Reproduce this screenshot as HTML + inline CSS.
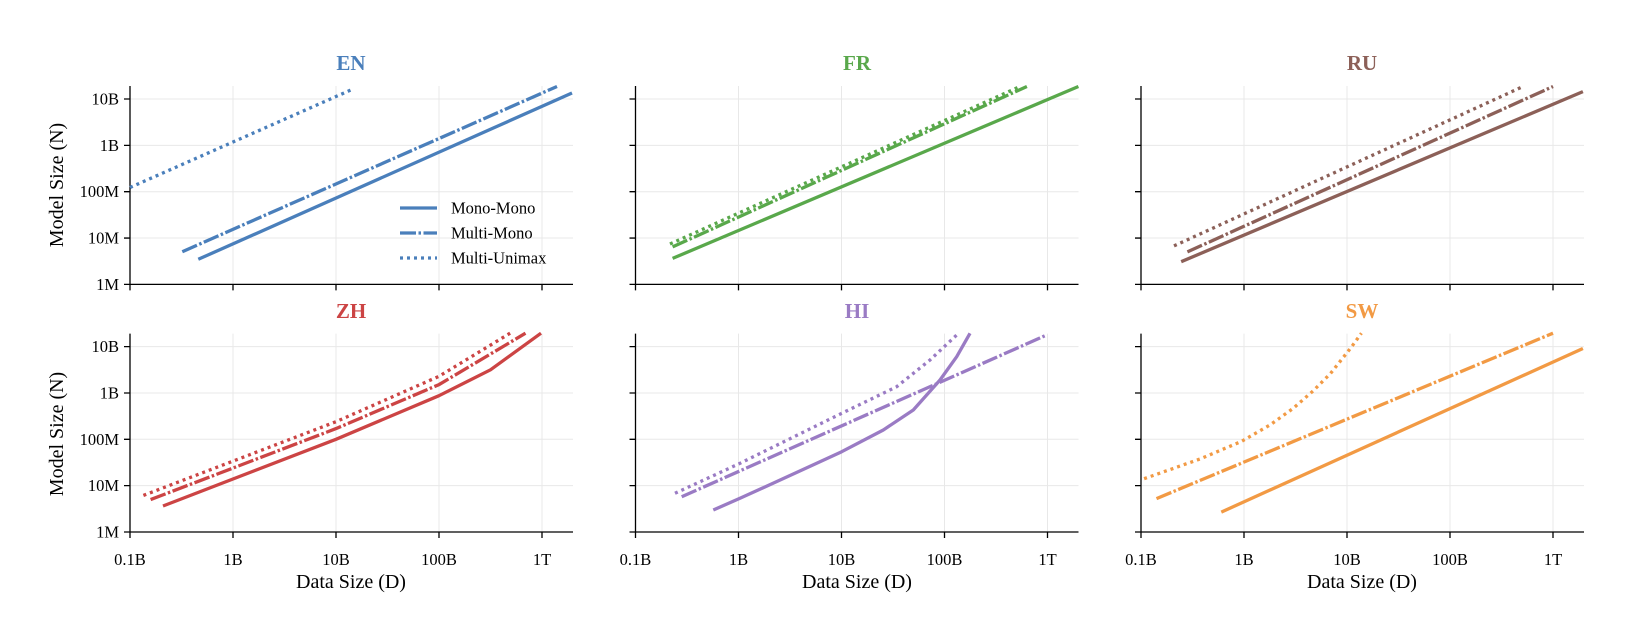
<!DOCTYPE html>
<html><head><meta charset="utf-8"><style>
body{margin:0;background:#fff}
svg{display:block;font-family:"Liberation Serif",serif}
.g{stroke:#e8e8e8;stroke-width:1}
.ax{stroke:#000;stroke-width:1.3;fill:none}
.tl{font-size:16.5px}
.s{fill:none;stroke-width:3.3;stroke-linejoin:round}
.d{fill:none;stroke-width:3.3;stroke-dasharray:16,2.5,2.5,2.5}
.o{fill:none;stroke-width:3.3;stroke-dasharray:3,4}
</style></head><body>
<svg width="1626" height="618" viewBox="0 0 1626 618" xmlns="http://www.w3.org/2000/svg">
<defs>
<g id="gt">
<line class="g" x1="0" x2="443" y1="-46.35" y2="-46.35"/><line class="g" x1="0" x2="443" y1="-92.7" y2="-92.7"/><line class="g" x1="0" x2="443" y1="-139" y2="-139"/><line class="g" x1="0" x2="443" y1="-185.4" y2="-185.4"/>
<line class="g" x1="103" x2="103" y1="0" y2="-198.4"/><line class="g" x1="206" x2="206" y1="0" y2="-198.4"/><line class="g" x1="309" x2="309" y1="0" y2="-198.4"/><line class="g" x1="412" x2="412" y1="0" y2="-198.4"/>
<path class="ax" d="M0,-198.4V0H443"/>
<path class="ax" d="M0,0h-6M0,-46.35h-6M0,-92.7h-6M0,-139h-6M0,-185.4h-6M0,0v6M103,0v6M206,0v6M309,0v6M412,0v6"/>
</g>
</defs>
<use href="#gt" x="130" y="284.4"/><use href="#gt" x="635.5" y="284.4"/><use href="#gt" x="1141" y="284.4"/>
<use href="#gt" x="130" y="532"/><use href="#gt" x="635.5" y="532"/><use href="#gt" x="1141" y="532"/>

<g font-weight="bold" font-size="21" text-anchor="middle">
<text x="351" y="70" fill="#4a7fbb">EN</text>
<text x="857" y="70" fill="#59a84b">FR</text>
<text x="1362" y="70" fill="#8c6058">RU</text>
<text x="351" y="318" fill="#cc4444">ZH</text>
<text x="857" y="318" fill="#9a7bc4">HI</text>
<text x="1362" y="318" fill="#f29a44">SW</text>
</g>

<g class="tl" text-anchor="end">
<text x="119" y="290">1M</text><text x="119" y="243.5">10M</text><text x="119" y="197.2">100M</text><text x="119" y="150.9">1B</text><text x="119" y="104.5">10B</text>
<text x="119" y="537.5">1M</text><text x="119" y="491.1">10M</text><text x="119" y="444.8">100M</text><text x="119" y="398.5">1B</text><text x="119" y="352.1">10B</text>
</g>
<g class="tl" text-anchor="middle">
<text x="130" y="565">0.1B</text><text x="233" y="565">1B</text><text x="336" y="565">10B</text><text x="439" y="565">100B</text><text x="542" y="565">1T</text>
<text x="635.5" y="565">0.1B</text><text x="738.5" y="565">1B</text><text x="841.5" y="565">10B</text><text x="944.5" y="565">100B</text><text x="1047.5" y="565">1T</text>
<text x="1141" y="565">0.1B</text><text x="1244" y="565">1B</text><text x="1347" y="565">10B</text><text x="1450" y="565">100B</text><text x="1553" y="565">1T</text>
</g>
<g font-size="20" text-anchor="middle">
<text x="351" y="588">Data Size (D)</text><text x="857" y="588">Data Size (D)</text><text x="1362" y="588">Data Size (D)</text>
<text transform="translate(63,185) rotate(-90)">Model Size (N)</text>
<text transform="translate(63,434) rotate(-90)">Model Size (N)</text>
</g>

<g stroke="#4a7fbb">
<path class="s" d="M198.3,259.3L572,93"/>
<path class="d" d="M182.3,251.7L557,86.5"/>
<path class="o" d="M130,187.5L353.5,88.8"/>
<path class="s" d="M400,208H437"/><path class="d" d="M400,233H437"/><path class="o" d="M400,258H437"/>
</g>
<g class="tl"><text x="451" y="213.5">Mono-Mono</text><text x="451" y="238.5">Multi-Mono</text><text x="451" y="263.5">Multi-Unimax</text></g>

<g stroke="#59a84b">
<path class="s" d="M672.6,258.4L1078.4,86.5"/>
<path class="d" d="M672.6,246.9L1026.9,86.5"/>
<path class="o" d="M670,244L1020,86.5"/>
</g>
<g stroke="#8c6058">
<path class="s" d="M1181.2,261.7L1582.9,91.6"/>
<path class="d" d="M1187.4,251.9L1553,86.5"/>
<path class="o" d="M1174,245.9L1523.1,86.5"/>
</g>
<g stroke="#cc4444">
<path class="s" d="M163,506L336,439.3L439,395.7L490.5,369.8L541,333.2"/>
<path class="d" d="M150.6,499.6L336,428.6L439,384.6L525.5,333.2"/>
<path class="o" d="M143.4,495.4L336,421.7L439,376.3L510.1,333.2"/>
</g>
<g stroke="#9a7bc4">
<path class="s" d="M713.3,510L740,498.3L816.7,463.3L841.7,451.7L883.3,430L913.3,410L940,380L956.7,356.7L970,333.3"/>
<path class="d" d="M681.7,496.7L1046.7,335"/>
<path class="o" d="M675,493.3L740,463.3L841.7,413.3L896.7,386.7L930,360L956.7,335"/>
</g>
<g stroke="#f29a44">
<path class="s" d="M1221.3,512.1L1582.9,348.5"/>
<path class="d" d="M1156.5,498.6L1553,333.2"/>
<path class="o" d="M1144.1,478.7L1200,459L1241.9,441.2L1270,425L1293.4,408.2L1313,391L1330.5,373.5L1342,359L1351.1,347.5L1361.4,333.2"/>
</g>
</svg>
</body></html>
